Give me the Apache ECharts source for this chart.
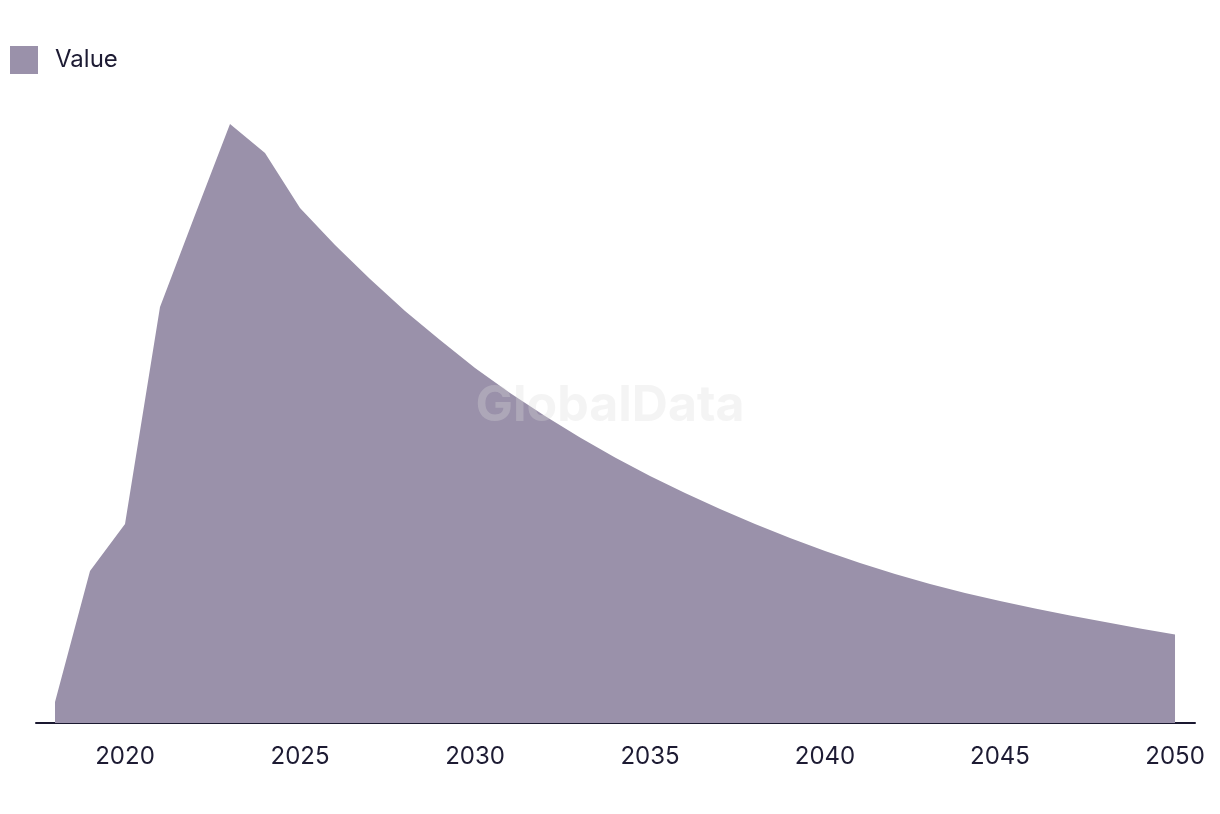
<!DOCTYPE html>
<html>
<head>
<meta charset="utf-8">
<script src="https://cdn.jsdelivr.net/npm/echarts@6/dist/echarts.min.js"></script>
<style>
html,body{margin:0;padding:0;background:#fff;}
#chart{width:1220px;height:814px;}
</style>
</head>
<body>
<div id="chart"></div>
<script>
var years = [2018,2019,2020,2021,2022,2023,2024,2025,2026,2027,2028,2029,2030,2031,2032,2033,2034,2035,2036,2037,2038,2039,2040,2041,2042,2043,2044,2045,2046,2047,2048,2049,2050];
var values = [21,152,199,416,508,599,570,515,478,444,412,383,355,330,307,285.5,265.5,247,230,214,199,185,172,160,149,139,130,122,114.5,107.5,101,94.5,88.5];
var tickLabels = [2020,2025,2030,2035,2040,2045,2050];
var seriesName = 'Value';

var chart = echarts.init(document.getElementById('chart'), null, {renderer:'canvas'});
var font = 'Inter, "Noto Sans", sans-serif';
chart.setOption({
  animation:false,
  backgroundColor:'#ffffff',
  legend:{
    left:10, top:46, padding:0, itemWidth:28, itemHeight:28, icon:'rect',
    textStyle:{fontSize:24, color:'#1d1b33', fontFamily:font, padding:[0,0,0,12]},
    data:[seriesName]
  },
  grid:{left:36, right:25, top:103, bottom:91},
  xAxis:{
    type:'value', min:2017.457, max:2050.571,
    axisLine:{show:true, lineStyle:{color:'#1a1830', width:2}},
    axisTick:{show:false},
    splitLine:{show:false},
    axisLabel:{customValues:tickLabels, formatter:function(v){return String(v);}, fontSize:24, color:'#1d1b33', fontFamily:font, margin:22}
  },
  yAxis:{type:'value', min:0, max:620, show:false, splitLine:{show:false}},
  series:[{
    name:seriesName, type:'line',
    data:years.map(function(y,i){return [y, values[i]];}),
    showSymbol:false, symbol:'none',
    lineStyle:{width:0},
    itemStyle:{color:'#9a91aa'},
    areaStyle:{color:'#9a91aa', opacity:1},
    z:2
  }],
  graphic:[{
    type:'text', left:'center', top:381, z:100,
    style:{text:'GlobalData', font:'bold 50px ' + font, fill:'rgba(220,220,220,0.3)'}
  }]
});
</script>
</body>
</html>
